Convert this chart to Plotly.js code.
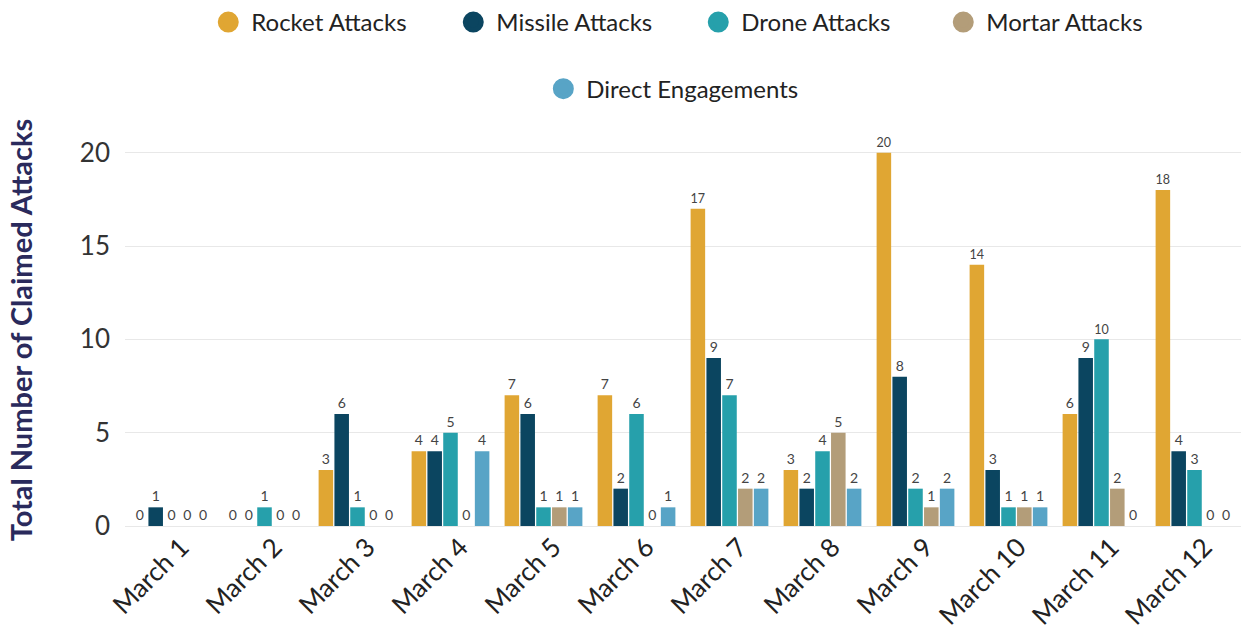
<!DOCTYPE html>
<html>
<head>
<meta charset="utf-8">
<script src="https://cdn.plot.ly/plotly-3.0.1.min.js"></script>
<style>html,body{margin:0;padding:0;background:#fff;}#chart{width:1243px;height:634px;}</style>
</head>
<body>
<div id="chart"></div>
<script>
const categories = ["March 1","March 2","March 3","March 4","March 5","March 6","March 7","March 8","March 9","March 10","March 11","March 12"];
const rocketAttacks  = [0,0,3,4,7,7,17,3,20,14,6,18];
const missileAttacks = [1,0,6,4,6,2,9,2,8,3,9,4];
const droneAttacks   = [0,1,1,5,1,6,7,4,2,1,10,3];
const mortarAttacks  = [0,0,0,0,1,0,2,5,1,1,2,0];
const directEngagements = [0,0,0,4,1,1,2,2,2,1,0,0];

const seriesNames = ["Rocket Attacks","Missile Attacks","Drone Attacks","Mortar Attacks","Direct Engagements"];
const seriesValues = [rocketAttacks, missileAttacks, droneAttacks, mortarAttacks, directEngagements];
const seriesColors = ["#E0A633","#0B4560","#26A0AB","#B39D79","#58A4C6"];

const FONT = "Lato, 'Open Sans', sans-serif";
const traces = [];
seriesNames.forEach((name, i) => {
  traces.push({
    type: "bar", name: name, x: categories, y: seriesValues[i],
    marker: {color: seriesColors[i]},
    text: seriesValues[i].map(String), textposition: "outside",
    textfont: {family: FONT, size: 14, color: "#444"},
    cliponaxis: false, showlegend: false, hoverinfo: "x+y+name"
  });
});
seriesNames.forEach((name, i) => {
  traces.push({
    type: "scatter", mode: "markers", name: name, x: [null], y: [null],
    marker: {color: seriesColors[i], size: 22, symbol: "circle", line: {color: seriesColors[i], width: 5}},
    showlegend: true, legend: i < 4 ? "legend" : "legend2", hoverinfo: "skip"
  });
});

const layout = {
  width: 1243, height: 634,
  margin: {l: 125, r: 2, t: 134, b: 108},
  paper_bgcolor: "#fff", plot_bgcolor: "#fff",
  barmode: "group", bargap: 0.15, bargroupgap: 0.08,
  font: {family: FONT, color: "#222"},
  xaxis: {
    type: "category", tickangle: -45, showgrid: false, zeroline: false,
    tickfont: {family: FONT, size: 26, color: "#222"}, ticks: "", showline: false,
    ticklabelshift: 10
  },
  yaxis: {
    range: [0, 21], tickvals: [0,5,10,15,20], showgrid: true, gridcolor: "#e8e8e8", gridwidth: 1,
    zeroline: true, zerolinecolor: "#e8e8e8", zerolinewidth: 1,
    tickfont: {family: FONT, size: 26, color: "#333"}, ticklabelstandoff: 14,
    title: {text: "Total Number of Claimed Attacks", font: {family: FONT, size: 29, color: "#2A2A5C", weight: "bold"}, standoff: 38}
  },
  legend: {
    orientation: "h", x: 0.511, xanchor: "center", xref: "paper", y: 1.0, yref: "container", yanchor: "top",
    font: {family: FONT, size: 24, color: "#222"}, itemwidth: 36, entrywidth: 194, bgcolor: "rgba(0,0,0,0)"
  },
  legend2: {
    orientation: "h", x: 0.49, xanchor: "center", xref: "paper", y: 0.895, yref: "container", yanchor: "top",
    font: {family: FONT, size: 24, color: "#222"}, itemwidth: 36, bgcolor: "rgba(0,0,0,0)"
  },
  showlegend: true
};

Plotly.newPlot("chart", traces, layout, {displayModeBar: false, staticPlot: true});
</script>
</body>
</html>
